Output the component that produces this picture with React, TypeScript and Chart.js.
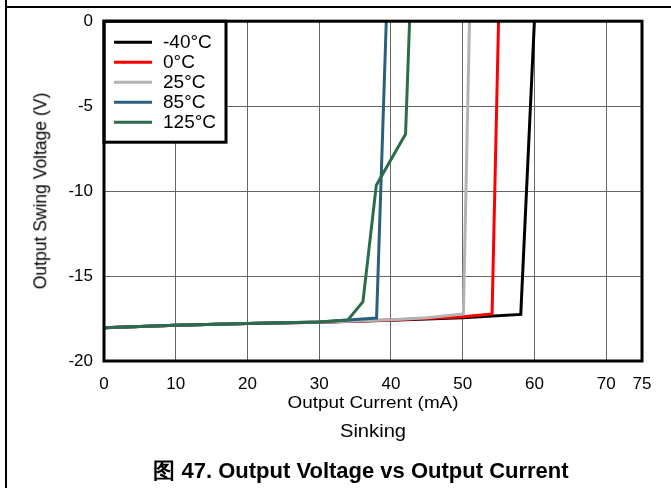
import React, { useEffect, useRef } from "react";
import { Chart, registerables } from "chart.js";

Chart.register(...registerables);

// ---- data ----
const xTickValues = [0, 10, 20, 30, 40, 50, 60, 70, 75];
const yTickValues = [-20, -15, -10, -5, 0];

const seriesLabels = ["-40°C", "0°C", "25°C", "85°C", "125°C"];
const seriesColors = ["#000000", "#ff0000", "#b3b3b3", "#2c5e7e", "#2b6c4b"];

const m40X = [0, 10, 20, 30, 40, 50, 58.1, 60.0];
const m40Y = [-18.05, -17.9, -17.8, -17.72, -17.6, -17.45, -17.26, 0];

const t0X = [0, 10, 20, 30, 40, 50, 54.1, 55.0];
const t0Y = [-18.05, -17.9, -17.8, -17.72, -17.58, -17.4, -17.23, 0];

const t25X = [0, 10, 20, 30, 40, 45, 50.1, 50.95];
const t25Y = [-18.05, -17.9, -17.8, -17.72, -17.57, -17.45, -17.23, 0];

const t85X = [0, 10, 20, 30, 38.0, 39.35];
const t85Y = [-18.05, -17.9, -17.8, -17.7, -17.47, 0];

const t125X = [0, 10, 20, 30, 34.0, 36.1, 37.96, 42.04, 42.6];
const t125Y = [-18.05, -17.9, -17.8, -17.7, -17.58, -16.51, -9.65, -6.64, 0];

const seriesX = [m40X, t0X, t25X, t85X, t125X];
const seriesY = [m40Y, t0Y, t25Y, t85Y, t125Y];

const FONT = "'Liberation Sans', Arial, sans-serif";

const framePlugin = {
  id: "frameAndLegend",
  afterDatasetsDraw(chart: any) {
    const { ctx, chartArea } = chart;
    const { left, top, right, bottom } = chartArea;
    ctx.save();
    // legend box
    const bw = 122;
    const bh = 121;
    ctx.fillStyle = "#ffffff";
    ctx.fillRect(left, top, bw, bh);
    ctx.lineWidth = 3;
    ctx.strokeStyle = "#000000";
    ctx.strokeRect(left, top, bw, bh);
    ctx.font = `19px ${FONT}`;
    ctx.textBaseline = "middle";
    ctx.textAlign = "left";
    seriesLabels.forEach((lab, i) => {
      const y = top + 21 + i * 20;
      ctx.strokeStyle = seriesColors[i];
      ctx.lineWidth = 3;
      ctx.beginPath();
      ctx.moveTo(left + 10, y);
      ctx.lineTo(left + 48, y);
      ctx.stroke();
      ctx.fillStyle = "#000000";
      ctx.fillText(lab, left + 59, y + 1);
    });
    // plot frame
    ctx.lineWidth = 3;
    ctx.strokeStyle = "#000000";
    ctx.strokeRect(left, top, right - left, bottom - top);
    ctx.restore();
  },
};

export default function App() {
  const canvasRef = useRef<HTMLCanvasElement | null>(null);

  useEffect(() => {
    document.body.style.margin = "0";
    const canvas = canvasRef.current;
    if (!canvas) return;
    const datasets = seriesLabels.map((label, i) => ({
      label,
      data: seriesX[i].map((x, j) => ({ x, y: seriesY[i][j] })),
      borderColor: seriesColors[i],
      backgroundColor: seriesColors[i],
      borderWidth: 3,
      pointRadius: 0,
      tension: 0,
      fill: false,
      order: seriesLabels.length - i,
    }));
    const chart = new Chart(canvas, {
      type: "line",
      data: { datasets },
      options: {
        animation: false,
        responsive: false,
        devicePixelRatio: 1,
        layout: { padding: { top: 19, right: 29, left: 0, bottom: 0 } },
        plugins: { legend: { display: false }, tooltip: { enabled: false } },
        scales: {
          x: {
            type: "linear",
            min: 0,
            max: 75,
            afterBuildTicks: (s: any) => {
              s.ticks = xTickValues.map((v) => ({ value: v }));
            },
            afterFit: (s: any) => {
              s.height = 127;
            },
            grid: { color: "#666666", lineWidth: 1, drawTicks: false },
            border: { display: false },
            ticks: {
              color: "#000",
              padding: 13,
              maxRotation: 0,
              autoSkip: false,
              font: { family: FONT, size: 17 },
              callback: (v: any) => String(v),
            },
          },
          y: {
            type: "linear",
            min: -20,
            max: 0,
            afterBuildTicks: (s: any) => {
              s.ticks = yTickValues.map((v) => ({ value: v }));
            },
            afterFit: (s: any) => {
              s.width = 104;
            },
            grid: { color: "#666666", lineWidth: 1, drawTicks: false },
            border: { display: false },
            ticks: {
              color: "#000",
              padding: 11,
              autoSkip: false,
              font: { family: FONT, size: 17 },
              callback: (v: any) => String(v),
            },
          },
        },
      },
      plugins: [framePlugin],
    });
    return () => chart.destroy();
  }, []);

  const abs: React.CSSProperties = {
    position: "absolute",
    whiteSpace: "nowrap",
    fontFamily: FONT,
    color: "#000",
    lineHeight: 1,
  };

  return (
    <div style={{ position: "relative", width: 671, height: 488, overflow: "hidden", background: "#fff" }}>
      <canvas
        ref={canvasRef}
        width={671}
        height={488}
        style={{ position: "absolute", left: 0, top: 0, width: 671, height: 488 }}
      />
      <div style={{ position: "absolute", left: 5, top: 0, width: 2, height: 488, background: "#000" }} />
      <div style={{ position: "absolute", left: 5, top: 6, width: 666, height: 2, background: "#000" }} />
      <div
        style={{
          ...abs,
          left: 41,
          top: 191,
          fontSize: 17.5,
          transform: "translate(-50%, -50%) rotate(-90deg)",
        }}
      >
        Output Swing Voltage (V)
      </div>
      <div style={{ ...abs, left: 373, top: 403, fontSize: 16, transform: "translate(-50%, -50%) scaleX(1.18)" }}>
        Output Current (mA)
      </div>
      <div style={{ ...abs, left: 373, top: 431, fontSize: 18, transform: "translate(-50%, -50%) scaleX(1.12)" }}>
        Sinking
      </div>
      <div
        style={{
          ...abs,
          left: 361,
          top: 471,
          fontSize: 22,
          fontWeight: "bold",
          transform: "translate(-50%, -50%)",
        }}
      >
        图 47. Output Voltage vs Output Current
      </div>
    </div>
  );
}
